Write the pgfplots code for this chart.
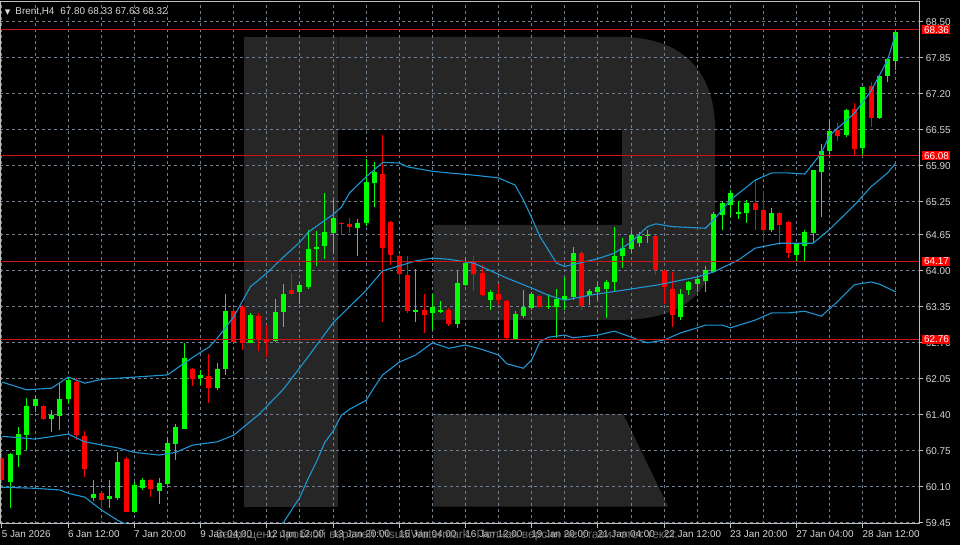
\documentclass[border=0pt]{standalone}
\usepackage{fontspec}
\setmainfont{Liberation Sans}
\newfontfamily\dvs{DejaVu Sans}
\usepackage{pgfplots}
\usepackage{pgfplotstable}
\pgfplotsset{compat=1.18}

\definecolor{wmark}{RGB}{38,38,38}
\definecolor{gridc}{RGB}{112,128,144}
\definecolor{bull}{RGB}{0,255,0}
\definecolor{bear}{RGB}{255,0,0}
\definecolor{lvl}{RGB}{205,20,20}
\definecolor{band}{RGB}{30,150,210}
\definecolor{txt}{RGB}{215,215,215}
\definecolor{frame}{RGB}{190,190,190}

\newcommand\lab{\fontsize{4.95}{5.8}\selectfont}

% Brent H4 candles: bar index, open, high, low, close
\pgfplotstableread{
k o h l c
1 60.19 60.70 59.71 60.69
2 60.67 61.17 60.46 61.06
3 61.03 61.70 60.77 61.56
4 61.56 61.73 61.45 61.68
6 61.33 61.48 61.09 61.39
7 61.38 61.97 61.12 61.68
8 61.68 62.09 61.60 62.03
11 59.89 60.22 59.84 59.97
13 59.88 60.22 59.71 59.93
14 59.90 60.73 59.86 60.55
16 59.65 60.19 59.62 60.13
17 60.07 60.25 60.04 60.22
19 60.03 60.26 59.79 60.17
20 60.14 61.00 60.13 60.88
21 60.87 61.23 60.59 61.18
22 61.15 62.70 61.15 62.42
24 62.07 62.21 61.94 62.12
26 61.88 62.34 61.85 62.22
27 62.22 63.59 62.12 63.27
30 62.70 63.23 62.69 63.21
33 62.74 63.49 62.72 63.26
34 63.26 63.76 62.98 63.59
36 63.62 63.79 63.40 63.74
37 63.71 64.74 63.68 64.40
38 64.39 64.72 64.08 64.44
39 64.45 65.41 64.21 64.71
40 64.69 65.28 64.30 64.95
43 64.78 64.93 64.26 64.87
44 64.86 66.02 64.81 65.60
45 65.58 65.97 65.16 65.78
50 63.26 64.03 63.08 63.29
52 63.23 63.58 62.93 63.35
53 63.25 63.46 63.23 63.29
55 63.04 64.00 62.96 63.78
56 63.75 64.25 63.73 64.14
59 63.48 63.65 63.30 63.61
62 62.76 63.28 62.75 63.22
63 63.18 63.65 63.14 63.34
64 63.32 63.62 63.30 63.58
66 63.34 63.58 63.31 63.36
67 63.35 63.67 62.78 63.50
68 63.47 63.89 63.29 63.54
69 63.52 64.44 63.48 64.33
71 63.56 63.68 63.38 63.64
72 63.62 63.80 63.48 63.71
73 63.67 63.83 63.14 63.79
74 63.79 64.79 63.62 64.27
75 64.27 64.59 64.05 64.41
76 64.39 64.74 64.32 64.65
77 64.50 64.71 64.44 64.63
78 64.64 64.74 64.50 64.65
82 63.17 63.68 63.12 63.59
83 63.66 63.82 63.56 63.79
84 63.77 63.93 63.62 63.85
85 63.82 64.09 63.62 64.01
86 63.98 65.07 63.98 65.03
87 65.01 65.25 64.74 65.22
88 65.19 65.47 64.97 65.40
89 65.03 65.27 64.93 65.06
90 65.05 65.28 64.87 65.23
93 64.73 65.14 64.71 65.05
96 64.29 64.50 64.18 64.49
97 64.45 64.73 64.18 64.71
98 64.68 65.83 64.50 65.82
99 65.79 66.29 64.97 66.16
100 66.17 66.73 66.06 66.52
102 66.46 66.92 66.42 66.90
104 66.22 67.33 66.08 67.32
106 66.76 67.54 66.74 67.52
107 67.53 67.84 67.42 67.83
108 67.80 68.33 67.63 68.32
}\upbars

\pgfplotstableread{
k o h l c
0 60.61 60.70 60.16 60.22
5 61.56 61.57 61.30 61.32
9 62.00 62.06 60.95 61.03
10 61.01 61.11 60.27 60.42
12 59.98 60.00 59.71 59.86
15 60.60 60.64 59.65 59.65
18 60.22 60.23 59.92 60.05
23 62.23 62.25 61.92 62.05
25 62.10 62.50 61.62 61.89
28 63.27 63.35 62.69 62.72
29 63.35 63.38 62.57 62.70
31 63.19 63.23 62.55 62.75
32 62.77 63.02 62.45 62.72
35 63.65 63.97 63.58 63.59
41 64.87 64.89 64.65 64.85
42 64.85 64.95 64.69 64.79
46 65.75 66.46 63.08 64.42
47 64.89 64.90 64.10 64.29
48 64.27 64.28 63.77 63.94
49 63.92 64.27 63.23 63.28
51 63.30 63.58 62.88 63.21
54 63.29 63.32 63.00 63.04
57 64.18 64.27 63.64 63.94
58 63.97 64.11 63.54 63.56
60 63.59 63.77 63.38 63.47
61 63.46 63.48 62.76 62.78
65 63.55 63.56 63.32 63.34
70 64.33 64.36 63.30 63.36
79 64.63 64.64 63.92 64.01
80 64.00 64.01 63.41 63.70
81 63.68 63.98 62.99 63.20
91 65.22 65.64 64.73 65.10
92 65.10 65.45 64.53 64.74
94 65.05 65.06 64.47 64.83
95 64.89 64.90 64.24 64.32
101 66.55 66.68 66.34 66.44
103 66.92 67.04 66.08 66.20
105 67.34 67.42 66.60 66.76
}\downbars

% Bollinger bands
\pgfplotstableread{
k v
0 61.99
3 61.85
6 61.88
8 62.08
10 61.97
12 62.04
14 62.06
16 62.08
20 62.12
22 62.33
24 62.53
25 62.62
26 62.78
28 63.17
30 63.71
32 63.96
34 64.25
36 64.52
37 64.70
40 65.02
41 65.15
42 65.41
44 65.70
46 65.96
48 65.95
49 65.88
52 65.80
54 65.77
57 65.73
60 65.68
62 65.55
63 65.28
64 64.96
65 64.62
66 64.38
67 64.14
68 64.08
70 64.15
72 64.22
74 64.32
76 64.52
78 64.80
79 64.85
81 64.80
85 64.77
86 64.92
88 65.28
91 65.64
93 65.77
95 65.77
97 65.75
99 66.13
100 66.45
103 66.85
105 67.25
107 67.81
108 68.30
}\bbupper

\pgfplotstableread{
k v
0 61.01
4 60.96
8 61.05
10 60.91
14 60.80
16 60.72
19 60.67
21 60.72
23 60.85
26 60.91
28 61.03
31 61.40
34 61.86
37 62.45
40 63.06
44 63.65
46 64.00
50 64.18
52 64.23
54 64.21
57 64.14
61 63.87
64 63.69
66 63.56
68 63.47
71 63.56
75 63.65
79 63.74
81 63.80
84 63.89
86 63.98
89 64.20
91 64.41
94 64.50
98 64.50
100 64.75
103 65.19
105 65.52
107 65.77
108 65.95
}\bbmid

\pgfplotstableread{
k v
0 60.09
4 60.07
7 60.04
8 59.98
10 59.91
12 59.68
14 59.49
15 59.42
17 59.25
20 58.95
24 58.60
28 58.60
31 58.90
33 59.25
34 59.45
35 59.68
36 59.91
37 60.25
38 60.55
39 60.90
40 61.10
41 61.39
42 61.50
44 61.66
45 61.90
46 62.12
48 62.35
50 62.48
52 62.70
54 62.60
56 62.66
58 62.58
60 62.48
61 62.32
63 62.24
64 62.39
65 62.72
66 62.80
68 62.84
69 62.79
72 62.84
74 62.91
77 62.75
78 62.70
80 62.75
82 62.88
84 62.97
85 63.02
87 63.02
88 62.97
91 63.11
93 63.24
95 63.24
97 63.27
99 63.18
101 63.45
103 63.75
105 63.80
106 63.76
108 63.62
}\bblower

\begin{document}
\begin{tikzpicture}
% canvas in pixel units (y down), axis box is x 0..919, y 2..524
\begin{scope}[x=0.5pt, y=-0.5pt, shift={(0pt,262pt)}]
  \fill[black] (0,0) rectangle (960,545);
  % watermark logo
  \fill[wmark] (244,37) rectangle (338,507);
  \fill[wmark] (338,37) -- (620,37) .. controls (690,37) and (715,80) .. (715,130)
    -- (715,240) .. controls (715,295) and (680,320) .. (620,320)
    -- (433,320) -- (433,225) -- (622,225) -- (622,130) -- (338,130) -- cycle;
  \fill[wmark] (433,414) -- (623,414) -- (668,507) -- (433,507) -- cycle;
\end{scope}

\begin{axis}[
  at={(0,0)}, anchor=south west,
  scale only axis, width=459.5pt, height=261pt,
  xmin=-0.18, xmax=110.8, ymin=59.43, ymax=68.86,
  axis line style={draw=frame, line width=0.5pt},
  xtick={0,8,...,104}, minor xtick={4,12,...,108},
  xticklabels={5 Jan 2026, 6 Jan 12:00, 7 Jan 20:00, 9 Jan 04:00, 12 Jan 12:00,
    13 Jan 20:00, 15 Jan 04:00, 16 Jan 12:00, 19 Jan 20:00, 21 Jan 04:00,
    22 Jan 12:00, 23 Jan 20:00, 27 Jan 04:00, 28 Jan 12:00},
  ytick={59.45,60.10,60.75,61.40,62.05,62.70,63.35,64.00,64.65,65.25,65.90,66.55,67.20,67.85,68.50},
  xtick pos=bottom, ytick pos=right, yticklabel pos=right,
  tick align=outside, major tick length=2pt, minor tick length=0pt,
  tick style={draw=frame, line width=0.5pt},
  grid=both,
  major grid style={draw=gridc, dash pattern=on 1.5pt off 1.5pt, line width=0.5pt},
  minor grid style={draw=gridc, dash pattern=on 1.5pt off 1.5pt, line width=0.5pt},
  ticklabel style={font=\lab, text=txt},
  /pgf/number format/assume math mode=true,
  yticklabel style={/pgf/number format/fixed, /pgf/number format/fixed zerofill,
    /pgf/number format/precision=2, anchor=west, inner sep=0pt, xshift=1.2pt},
  xticklabel style={anchor=north west, inner sep=0pt, xshift=-0.3pt, yshift=-1.2pt},
]
% wicks
\addplot[draw=none, mark=none, error bars/.cd, y dir=both, y explicit, error mark=none,
  error bar style={draw=bull, line width=0.5pt}]
  table[x=k, y=c, y error plus expr=\thisrow{h}-\thisrow{c}, y error minus expr=\thisrow{c}-\thisrow{l}] {\upbars};
\addplot[draw=none, mark=none, error bars/.cd, y dir=both, y explicit, error mark=none,
  error bar style={draw=bear, line width=0.5pt}]
  table[x=k, y=c, y error plus expr=\thisrow{h}-\thisrow{c}, y error minus expr=\thisrow{c}-\thisrow{l}] {\downbars};
% bodies
\addplot[draw=none, mark=none, error bars/.cd, y dir=plus, y explicit, error mark=none,
  error bar style={draw=bull, line width=2.5pt, line cap=butt}]
  table[x=k, y=o, y error plus expr=\thisrow{c}-\thisrow{o}] {\upbars};
\addplot[draw=none, mark=none, error bars/.cd, y dir=plus, y explicit, error mark=none,
  error bar style={draw=bear, line width=2.5pt, line cap=butt}]
  table[x=k, y=c, y error plus expr=\thisrow{o}-\thisrow{c}] {\downbars};
% Bollinger bands
\addplot[band, line width=0.55pt] table[x=k, y=v] {\bbupper};
\addplot[band, line width=0.55pt] table[x=k, y=v] {\bbmid};
\addplot[band, line width=0.55pt] table[x=k, y=v] {\bblower};
% horizontal levels
\addplot[lvl, line width=0.6pt] coordinates {(-1,68.36) (112,68.36)};
\addplot[lvl, line width=0.6pt] coordinates {(-1,66.08) (112,66.08)};
\addplot[lvl, line width=0.6pt] coordinates {(-1,64.17) (112,64.17)};
\addplot[lvl, line width=0.6pt] coordinates {(-1,62.76) (112,62.76)};
\end{axis}

\begin{scope}[x=0.5pt, y=-0.5pt, shift={(0pt,262pt)}]
  \foreach \p/\t in {29.7/68.36, 155.8/66.08, 261.5/64.17, 339.4/62.76}
    \node[fill=bear, text=white, font=\lab, inner xsep=0.8pt, inner ysep=0.6pt, anchor=west] at (922,\p) {\t};
  \node[anchor=west, inner sep=0pt, text=txt, font=\lab] at (4,12) {{\dvs\fontsize{3.6}{4}\selectfont ▼}\hspace{2.5pt}Brent,H4\hspace{3pt}67.80 68.33 67.63 68.32};
  \node[anchor=west, inner sep=0pt, text=black!55, font=\fontsize{6}{7}\selectfont] at (215,536) {Защищено пробной версией VisualWatermark. Полная версия не ставит этот текст.};
\end{scope}
\end{tikzpicture}
\end{document}
